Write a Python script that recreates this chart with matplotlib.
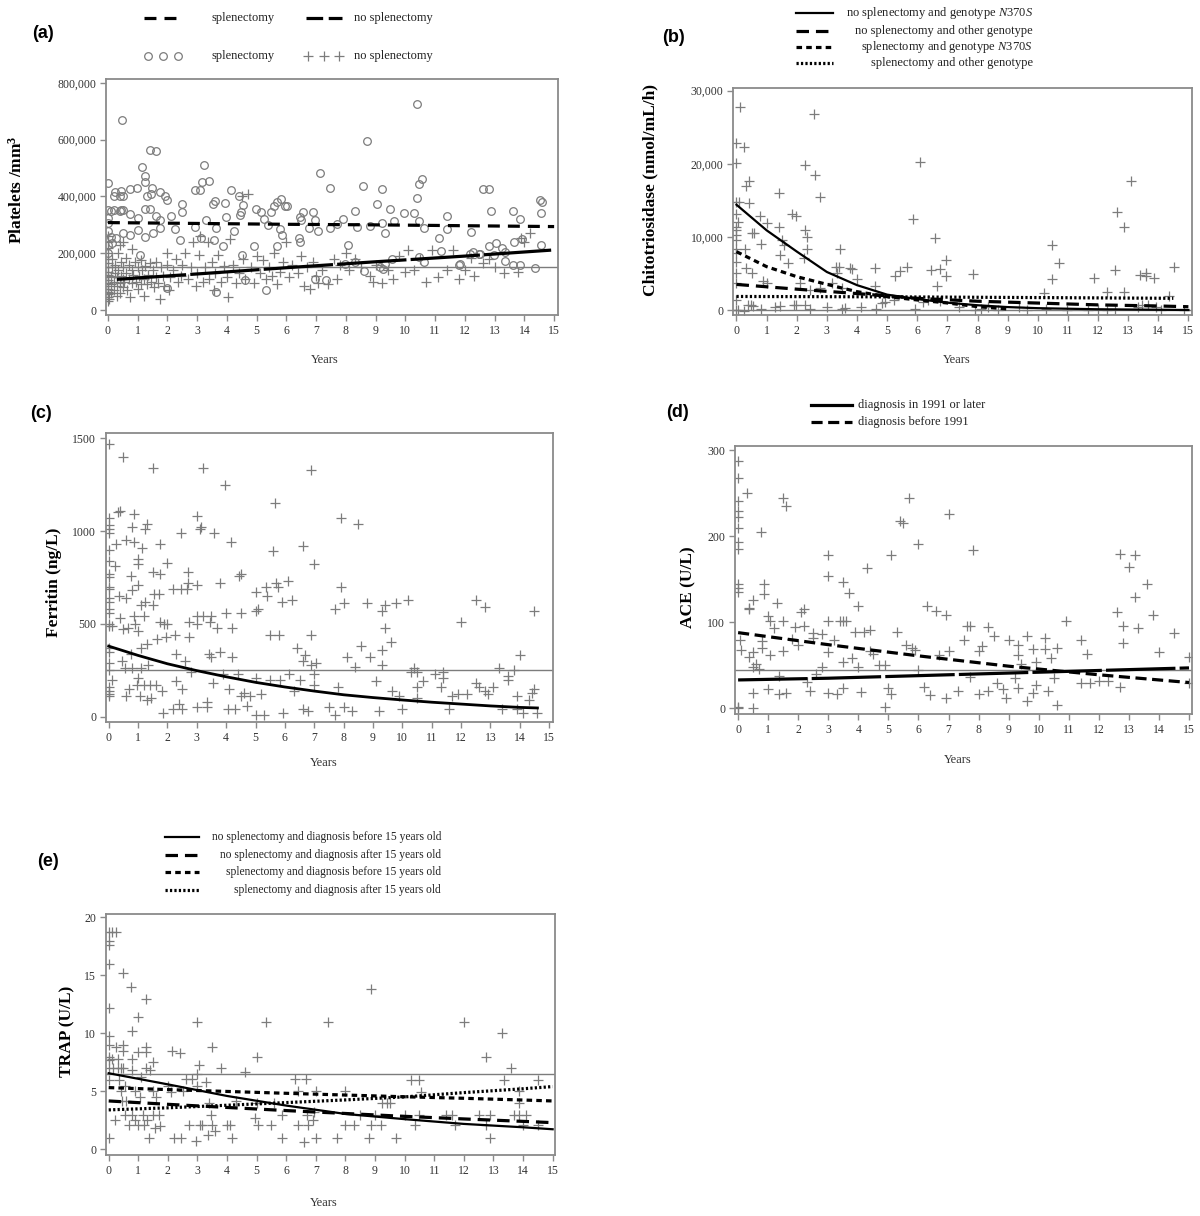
import matplotlib
matplotlib.use("Agg")
import matplotlib.pyplot as plt
from matplotlib.lines import Line2D
from matplotlib.ticker import FuncFormatter

plt.rcParams["font.family"] = "Liberation Serif"
plt.rcParams["mathtext.fontset"] = "custom"
plt.rcParams["mathtext.rm"] = "Liberation Serif"
plt.rcParams["mathtext.it"] = "Liberation Serif:italic"
plt.rcParams["mathtext.bf"] = "Liberation Serif:bold"
plt.rcParams["mathtext.default"] = "regular"
plt.rcParams["lines.scale_dashes"] = False

# DATA

years = list(range(16))

# (a) platelets, values in /mm3
a_splen_pts = [(0.48, 670000), (0.0, 446000), (1.40, 563000), (1.63, 560000), (1.16, 504000), (1.26, 472000),
               (1.24, 451000), (0.25, 416000), (0.45, 418000), (0.40, 400000), (0.50, 402000), (0.22, 400000),
               (0.75, 427000), (0.99, 431000), (1.48, 431000), (1.46, 410000), (1.74, 417000), (1.91, 402000),
               (1.99, 386000), (1.32, 400000), (0.0, 352000), (0.12, 350000), (0.22, 353000), (0.39, 350000),
               (0.45, 352000), (0.50, 351000), (0.73, 340000), (1.01, 323000), (1.26, 356000), (1.40, 355000),
               (1.63, 331000), (1.74, 317000), (0.0, 323000), (0.0, 306000), (0.0, 277000), (0.1, 258000),
               (0.28, 255000), (0.5, 270000), (0.73, 264000), (1.01, 282000), (1.26, 258000), (1.52, 270000),
               (1.74, 288000), (0.0, 230000), (0.15, 235000), (0.0, 200000), (1.07, 195000), (2.13, 331000),
               (2.25, 285000), (2.50, 375000), (2.50, 347000), (2.41, 247000), (2.92, 422000), (3.09, 422000),
               (3.24, 510000), (3.16, 452000), (3.41, 455000), (3.31, 317000), (3.14, 253000), (3.54, 373000),
               (3.59, 383000), (3.65, 288000), (2.92, 294000), (3.57, 247000), (3.87, 224000), (3.93, 376000),
               (3.98, 329000), (4.15, 422000), (4.23, 280000), (4.39, 400000), (4.43, 335000), (4.49, 347000),
               (4.55, 370000), (4.9, 224000), (4.99, 355000), (5.14, 347000), (5.24, 322000), (5.39, 300000),
               (5.48, 345000), (5.58, 365000), (5.67, 380000), (5.81, 390000), (5.95, 367000), (5.8, 285000),
               (5.85, 265000), (5.67, 225000), (4.5, 195000), (4.6, 105000), (5.3, 70000), (3.62, 62000),
               (2.0, 76000), (10.39, 725000), (8.71, 597000), (7.14, 482000), (7.47, 429000), (8.56, 438000),
               (9.21, 426000), (10.39, 396000), (10.47, 445000), (10.56, 463000), (9.04, 372000), (9.47, 357000),
               (9.96, 342000), (10.30, 342000), (8.29, 348000), (6.90, 344000), (6.56, 344000), (6.47, 327000),
               (6.5, 316000), (6.02, 366000), (6.97, 316000), (7.06, 279000), (6.75, 289000), (6.41, 255000),
               (6.47, 240000), (7.47, 290000), (7.89, 320000), (7.70, 303000), (8.37, 294000), (8.82, 296000),
               (9.21, 307000), (9.30, 273000), (9.63, 315000), (10.45, 313000), (10.62, 288000), (11.40, 330000),
               (11.40, 286000), (11.12, 254000), (12.21, 275000), (8.06, 228000), (11.21, 207000), (12.18, 196000),
               (12.46, 198000), (9.55, 178000), (10.47, 188000), (10.62, 168000), (8.32, 168000), (8.60, 139000),
               (9.24, 145000), (9.31, 162000), (9.16, 152000), (7.34, 107000), (6.97, 109000), (11.80, 160000),
               (7.98, 162000), (12.6, 428000), (12.8, 428000), (12.87, 348000), (13.62, 348000), (13.86, 320000),
               (14.52, 389000), (14.6, 381000), (14.55, 342000), (14.55, 229000), (13.64, 240000), (13.93, 249000),
               (13.06, 235000), (12.8, 226000), (13.25, 217000), (13.34, 205000), (12.97, 194000), (13.35, 174000),
               (13.62, 158000), (13.86, 158000), (14.35, 149000), (12.52, 199000), (12.28, 205000), (11.83, 162000)]

a_nosplen_pts = [(0, 30000), (0, 45000), (0, 55000), (0, 65000), (0, 75000), (0, 85000), (0, 95000), (0, 105000),
                 (0, 115000), (0, 125000), (0, 135000), (0, 150000), (0, 165000), (0, 180000), (0, 200000),
                 (0, 220000), (0, 240000), (0, 260000), (0.05, 40000), (0.1, 60000), (0.1, 90000), (0.12, 120000),
                 (0.15, 150000), (0.15, 180000), (0.2, 70000), (0.2, 100000), (0.25, 130000), (0.25, 160000),
                 (0.3, 50000), (0.3, 85000), (0.3, 115000), (0.35, 140000), (0.35, 200000), (0.4, 60000),
                 (0.4, 95000), (0.4, 230000), (0.45, 120000), (0.45, 170000), (0.5, 80000), (0.5, 110000),
                 (0.5, 150000), (0.5, 240000), (0.55, 100000), (0.6, 130000), (0.6, 185000), (0.65, 70000),
                 (0.7, 110000), (0.7, 160000), (0.75, 45000), (0.8, 95000), (0.8, 140000), (0.8, 215000),
                 (0.85, 125000), (0.9, 170000), (0.95, 100000), (1.0, 150000), (1.0, 75000), (1.05, 120000),
                 (1.1, 90000), (1.1, 175000), (1.15, 140000), (1.2, 50000), (1.2, 110000), (1.25, 155000),
                 (1.3, 90000), (1.35, 125000), (1.4, 165000), (1.45, 100000), (1.5, 140000), (1.55, 80000),
                 (1.6, 170000), (1.6, 115000), (1.7, 95000), (1.75, 40000), (1.8, 150000), (1.85, 120000),
                 (1.9, 85000), (2.0, 200000), (2.0, 160000), (2.05, 70000), (2.1, 115000), (2.2, 140000),
                 (2.3, 180000), (2.35, 100000), (2.45, 120000), (2.5, 160000), (2.6, 200000), (2.7, 110000),
                 (2.8, 150000), (2.85, 240000), (2.95, 85000), (3.0, 130000), (3.05, 195000), (3.1, 260000),
                 (3.2, 100000), (3.25, 150000), (3.35, 240000), (3.4, 110000), (3.5, 170000), (3.55, 70000),
                 (3.6, 130000), (3.7, 195000), (3.8, 100000), (3.9, 155000), (4.0, 115000), (4.05, 45000),
                 (4.1, 250000), (4.2, 160000), (4.3, 95000), (4.4, 130000), (4.5, 400000), (4.55, 180000),
                 (4.6, 110000), (4.7, 410000), (4.8, 150000), (4.9, 95000), (5.0, 190000), (5.1, 130000),
                 (5.2, 175000), (5.3, 110000), (5.4, 150000), (5.5, 120000), (5.6, 200000), (5.7, 90000),
                 (5.8, 135000), (5.9, 170000), (6.0, 240000), (6.1, 115000), (6.2, 160000), (6.4, 130000),
                 (6.5, 190000), (6.6, 85000), (6.7, 150000), (6.8, 75000), (6.9, 170000), (7.0, 120000),
                 (7.05, 95000), (7.2, 140000), (7.4, 90000), (7.6, 180000), (7.7, 110000), (7.8, 160000),
                 (8.0, 200000), (8.1, 140000), (8.3, 180000), (8.5, 150000), (8.8, 120000), (8.9, 100000),
                 (9.0, 160000), (9.2, 95000), (9.4, 140000), (9.6, 110000), (9.8, 190000), (10.0, 135000),
                 (10.1, 210000), (10.3, 140000), (10.5, 180000), (10.7, 100000), (10.9, 210000), (11.1, 115000),
                 (11.4, 140000), (11.6, 210000), (11.8, 110000), (12.0, 140000), (12.2, 185000), (12.3, 120000),
                 (12.6, 165000), (12.8, 180000), (13.0, 150000), (13.3, 130000), (13.8, 135000), (14.0, 240000),
                 (14.2, 270000), (13.9, 255000)]

a_splen_fit_x = [0, 3, 6, 9, 12, 15]
a_splen_fit_y = [308000, 305000, 302000, 300000, 297000, 294000]
a_nosplen_fit_x = [0.3, 3, 6, 9, 12, 14.9]
a_nosplen_fit_y = [108000, 127000, 149000, 170000, 190000, 211000]
a_ref = 150000

# (b) chitotriosidase
b_pts = [(0.11, 27800), (0.0, 22800), (0.26, 22300), (0.0, 20100), (2.29, 19800), (2.61, 18400), (2.58, 26800),
         (2.76, 15500), (0.41, 17700), (0.33, 16900), (0.41, 14700), (0.0, 14800), (0.08, 14800), (1.42, 16000),
         (0, 13200), (0, 11400), (0, 10900), (0, 10300), (0, 9600), (0, 8400), (0, 7750), (0, 6600), (0, 5000),
         (0, 3650), (0, 1370), (0, 0), (0.05, 12100), (0.5, 10500), (0.59, 10500), (0.77, 12800), (1.0, 11900),
         (0.82, 9000), (0.28, 8400), (0.31, 5700), (0.52, 5000), (0.88, 3900), (1.01, 3650), (1.42, 11300),
         (1.52, 9600), (1.58, 8900), (1.46, 7500), (1.71, 6400), (1.84, 13200), (1.99, 12800), (2.26, 10900),
         (2.35, 10000), (2.35, 8400), (2.25, 7100), (2.1, 3650), (2.45, 2700), (2.77, 3000), (3.44, 8400),
         (3.31, 5900), (3.4, 5900), (3.76, 5700), (3.82, 5600), (4.0, 4300), (3.33, 5000), (3.18, 3650),
         (3.5, 3000), (4.6, 5700), (4.6, 3300), (5.26, 4600), (5.44, 5400), (5.67, 5900), (5.86, 12500),
         (6.09, 20200), (6.44, 5500), (6.6, 9800), (6.67, 3300), (6.76, 5600), (6.95, 6800), (6.95, 4600),
         (7.84, 4900), (10.2, 2300), (10.46, 8900), (10.46, 4300), (10.69, 6400), (11.87, 4400), (12.29, 2400),
         (12.57, 5500), (12.63, 13400), (12.86, 11300), (12.86, 2400), (13.1, 17600), (13.38, 4800),
         (13.6, 5100), (13.6, 4600), (13.85, 4400), (14.53, 5900), (14.36, 1900),
         (0.05, 0), (0.26, -200), (0.37, 700), (0.49, 700), (0.54, 600), (0.82, 200), (1.27, 450), (1.46, 600),
         (1.9, 700), (1.97, 700), (2.29, 700), (2.45, 200), (2.99, 450), (3.5, 200), (3.59, 300), (4.14, 450),
         (4.62, 200), (4.84, 900), (4.94, 1100), (5.22, 1370), (5.93, 200), (6.18, 1140), (6.35, 1370),
         (6.76, 1280), (7.4, 450), (7.91, 0), (8.1, 200), (8.35, 450), (8.67, 0), (9.38, 450), (9.64, 0),
         (10.27, 200), (10.97, 0), (11.68, 0), (12.0, 200), (12.3, 0), (12.57, 200), (13.34, 450), (13.47, 700),
         (13.66, 700), (13.92, 450), (14.1, 0), (14.87, 0)]

b_solid_x = [0, 1, 2, 3, 4, 5, 6, 7, 8, 9, 10, 12, 15]
b_solid_y = [14400, 10900, 8000, 5200, 3400, 2100, 1500, 1000, 650, 400, 250, 100, 0]
b_longdash_x = [0, 2, 4, 6, 8, 10, 12, 14, 15]
b_longdash_y = [3500, 2850, 2250, 1600, 1200, 950, 700, 550, 450]
b_shortdash_x = [0, 1, 2, 3, 4, 5, 6, 7, 8, 9]
b_shortdash_y = [7980, 5930, 4560, 3510, 2510, 1830, 1370, 960, 460, 140]
b_dotted_x = [0, 5, 10, 14.5]
b_dotted_y = [1850, 1800, 1700, 1600]
b_ref = 0

# (c) ferritin
c_pts = [(0, 1470), (0, 1070), (0, 1030), (0, 1010), (0, 990), (0, 900), (0, 840), (0, 770), (0, 750), (0, 700),
         (0, 690), (0, 640), (0, 620), (0, 580), (0, 560), (0, 500), (0, 490), (0, 370), (0, 350), (0, 290),
         (0, 250), (0, 160), (0, 140), (0, 120), (0, 110), (0.1, 200), (0.1, 490), (0.2, 810), (0.25, 930),
         (0.3, 1100), (0.35, 650), (0.4, 1110), (0.4, 530), (0.45, 300), (0.5, 1400), (0.5, 470), (0.55, 260),
         (0.6, 950), (0.6, 640), (0.6, 110), (0.65, 480), (0.7, 150), (0.75, 340), (0.75, 760), (0.8, 1020),
         (0.8, 680), (0.8, 260), (0.85, 1090), (0.85, 940), (0.85, 540), (0.9, 500), (0.95, 170), (1.0, 850),
         (1.0, 820), (1.0, 710), (1.0, 460), (1.0, 210), (1.05, 110), (1.1, 600), (1.1, 370), (1.1, 260),
         (1.15, 910), (1.2, 540), (1.2, 170), (1.25, 1010), (1.25, 620), (1.3, 390), (1.3, 90), (1.3, 1040),
         (1.35, 280), (1.4, 170), (1.45, 100), (1.5, 1340), (1.5, 780), (1.5, 600), (1.55, 660), (1.6, 170),
         (1.65, 420), (1.7, 660), (1.75, 770), (1.75, 930), (1.75, 510), (1.8, 140), (1.85, 20), (1.9, 500),
         (1.95, 430), (2.0, 830), (2.0, 500), (2.2, 690), (2.2, 40), (2.25, 440), (2.3, 340), (2.3, 190),
         (2.4, 70), (2.45, 990), (2.45, 690), (2.5, 150), (2.5, 40), (2.6, 300), (2.65, 690), (2.7, 720),
         (2.7, 780), (2.75, 510), (2.75, 430), (2.8, 240), (3.0, 1080), (3.0, 710), (3.0, 540), (3.0, 500),
         (3.0, 50), (3.1, 1010), (3.15, 1020), (3.2, 1340), (3.2, 540), (3.35, 80), (3.35, 50), (3.4, 340),
         (3.45, 510), (3.5, 540), (3.5, 320), (3.55, 180), (3.6, 990), (3.7, 480), (3.8, 720), (3.8, 350),
         (3.9, 230), (3.95, 1250), (4.0, 560), (4.05, 40), (4.1, 150), (4.15, 940), (4.2, 480), (4.2, 320),
         (4.3, 40), (4.4, 230), (4.45, 760), (4.5, 770), (4.5, 560), (4.5, 110), (4.6, 130), (4.7, 60),
         (4.8, 110), (5.0, 670), (5.0, 570), (5.0, 210), (5.0, 10), (5.1, 580), (5.2, 120), (5.3, 10),
         (5.35, 700), (5.4, 650), (5.5, 440), (5.5, 200), (5.6, 890), (5.65, 1150), (5.7, 720), (5.75, 700),
         (5.8, 440), (5.85, 200), (5.9, 620), (5.95, 20), (6.1, 730), (6.15, 230), (6.25, 630), (6.3, 140),
         (6.4, 370), (6.5, 200), (6.6, 920), (6.6, 300), (6.6, 40), (6.7, 330), (6.8, 30), (6.9, 1330),
         (6.9, 440), (6.9, 280), (7.0, 820), (7.0, 230), (7.0, 170), (7.05, 290), (7.5, 50), (7.7, 580),
         (7.7, 10), (7.8, 160), (7.9, 1070), (7.9, 700), (8.0, 610), (8.0, 50), (8.1, 320), (8.3, 30),
         (8.4, 270), (8.5, 1040), (8.6, 380), (8.8, 610), (8.9, 320), (9.1, 190), (9.2, 30), (9.3, 570),
         (9.3, 360), (9.3, 280), (9.4, 480), (9.4, 600), (9.6, 400), (9.65, 140), (9.8, 610), (9.9, 110),
         (10.0, 40), (10.2, 630), (10.3, 240), (10.4, 260), (10.5, 240), (10.5, 160), (10.5, 100), (10.7, 190),
         (11.1, 230), (11.3, 160), (11.4, 240), (11.4, 210), (11.6, 40), (11.7, 110), (11.9, 120), (12.0, 510),
         (12.2, 120), (12.5, 630), (12.5, 180), (12.6, 160), (12.8, 590), (12.8, 140), (12.9, 120), (13.1, 160),
         (13.3, 260), (13.4, 40), (13.6, 220), (13.6, 200), (13.8, 250), (13.9, 110), (13.9, 40), (14.0, 330),
         (14.1, 20), (14.3, 90), (14.4, 130), (14.5, 570), (14.5, 150), (14.6, 20)]

c_fit_x = [0, 1, 2, 3, 4, 5, 6, 7, 8, 9, 10, 11, 12, 13, 14, 14.6]
c_fit_y = [380, 330, 285, 248, 215, 185, 160, 138, 118, 103, 90, 78, 68, 58, 50, 47]
c_ref = 250

# (d) ACE
d_pts = [(0, 287), (0, 268), (0, 241), (0, 230), (0, 222), (0, 210), (0, 193), (0, 185), (0, 145), (0, 140),
         (0, 135), (0, 2), (0, 0), (0.05, 80), (0.1, 68), (0.3, 250), (0.35, 117), (0.35, 115), (0.35, 60),
         (0.5, 126), (0.5, 66), (0.5, 48), (0.5, 18), (0.5, 0), (0.6, 52), (0.7, 46), (0.75, 205), (0.8, 78),
         (0.8, 70), (0.85, 145), (0.85, 133), (1.0, 107), (1.05, 101), (1.05, 62), (1.0, 22), (1.2, 93),
         (1.3, 122), (1.35, 38), (1.35, 17), (1.5, 245), (1.5, 102), (1.5, 67), (1.6, 235), (1.6, 18),
         (1.8, 81), (1.9, 95), (2.0, 74), (2.1, 112), (2.2, 96), (2.2, 116), (2.3, 31), (2.4, 20), (2.5, 87),
         (2.5, 82), (2.6, 40), (2.8, 86), (2.8, 48), (3.0, 178), (3.0, 154), (3.0, 102), (3.0, 66), (3.0, 18),
         (3.2, 80), (3.3, 17), (3.4, 102), (3.5, 147), (3.5, 102), (3.5, 54), (3.5, 24), (3.6, 102),
         (3.7, 134), (3.8, 58), (3.9, 89), (4.0, 119), (4.0, 48), (4.1, 19), (4.2, 89), (4.3, 163), (4.4, 91),
         (4.4, 67), (4.5, 63), (4.7, 50), (4.9, 2), (4.9, 50), (5.0, 24), (5.1, 178), (5.1, 17), (5.3, 89),
         (5.4, 218), (5.5, 215), (5.6, 74), (5.7, 245), (5.8, 70), (5.9, 68), (6.0, 191), (6.0, 45), (6.2, 25),
         (6.3, 119), (6.4, 15), (6.6, 113), (6.7, 62), (6.9, 109), (6.9, 12), (7.0, 67), (7.0, 226), (7.3, 20),
         (7.5, 79), (7.6, 96), (7.7, 96), (7.7, 36), (7.8, 184), (8.0, 17), (8.0, 67), (8.1, 72), (8.3, 95),
         (8.3, 20), (8.5, 84), (8.6, 30), (8.8, 22), (8.9, 12), (9.0, 80), (9.2, 35), (9.3, 74), (9.3, 62),
         (9.3, 24), (9.4, 52), (9.6, 84), (9.6, 8), (9.8, 69), (9.8, 18), (9.9, 27), (9.9, 54), (10.2, 82),
         (10.2, 69), (10.3, 20), (10.4, 59), (10.5, 35), (10.6, 70), (10.6, 4), (10.9, 102), (11.4, 80),
         (11.4, 30), (11.6, 63), (11.7, 30), (12.0, 32), (12.3, 32), (12.6, 112), (12.7, 180), (12.8, 96),
         (12.8, 76), (12.7, 25), (13.0, 164), (13.2, 178), (13.2, 129), (13.3, 93), (13.6, 144), (13.8, 109),
         (14.0, 66), (14.5, 87), (15.0, 60), (15.0, 29)]

d_late_x = [0, 3, 6, 9, 12, 15]
d_late_y = [33, 35, 38, 41, 44, 47]
d_early_x = [0, 3, 6, 9, 12, 15]
d_early_y = [88, 74, 61, 49, 39, 30]
d_ref = 45

# (e) TRAP
e_pts = [(0, 18.7), (0, 18.0), (0, 17.6), (0, 16.0), (0, 12.2), (0, 9.8), (0, 9.0), (0, 8.0), (0, 7.7), (0, 7.0),
         (0, 6.0), (0, 1.0), (0.1, 18.7), (0.1, 7.8), (0.15, 7.0), (0.2, 2.5), (0.25, 18.7), (0.25, 8.8),
         (0.3, 7.8), (0.3, 7.0), (0.35, 6.0), (0.4, 7.0), (0.4, 5.0), (0.45, 4.2), (0.5, 15.2), (0.5, 9.0),
         (0.5, 8.5), (0.5, 7.0), (0.55, 5.5), (0.55, 3.0), (0.6, 4.2), (0.7, 2.1), (0.75, 14.0), (0.8, 10.2),
         (0.8, 7.8), (0.8, 6.8), (0.8, 3.0), (0.9, 5.0), (0.9, 2.5), (1.0, 11.4), (1.0, 8.4), (1.0, 2.1),
         (1.05, 4.5), (1.1, 6.2), (1.15, 3.0), (1.2, 2.1), (1.25, 13.0), (1.25, 8.8), (1.25, 8.4), (1.25, 7.0),
         (1.3, 2.5), (1.35, 1.0), (1.4, 6.8), (1.5, 7.5), (1.5, 5.0), (1.5, 3.0), (1.55, 1.8), (1.6, 4.5),
         (1.7, 3.0), (1.75, 2.0), (2.0, 5.5), (2.1, 4.9), (2.15, 8.5), (2.2, 1.0), (2.4, 8.3), (2.45, 1.0),
         (2.5, 5.0), (2.6, 6.1), (2.7, 2.1), (2.8, 6.1), (2.95, 0.7), (3.0, 11.0), (3.0, 6.5), (3.0, 5.5),
         (3.05, 7.3), (3.1, 2.1), (3.15, 2.1), (3.3, 5.8), (3.35, 1.2), (3.4, 4.0), (3.45, 3.0), (3.5, 8.8),
         (3.5, 2.1), (3.6, 1.6), (3.8, 7.0), (4.0, 2.1), (4.1, 2.1), (4.15, 1.0), (4.3, 4.2), (4.6, 6.7),
         (4.95, 2.7), (5.0, 8.0), (5.0, 4.0), (5.05, 2.1), (5.3, 11.0), (5.5, 2.1), (5.6, 4.0), (5.85, 3.0),
         (5.85, 1.0), (6.3, 6.1), (6.4, 2.1), (6.4, 5.0), (6.6, 0.6), (6.65, 6.1), (6.7, 3.0), (6.75, 2.1),
         (6.9, 2.5), (6.95, 3.2), (7.0, 1.0), (7.0, 5.0), (7.4, 11.0), (7.7, 1.0), (8.0, 5.0), (8.0, 2.1),
         (8.3, 2.1), (8.5, 3.0), (8.8, 1.0), (8.85, 13.8), (8.85, 2.1), (9.0, 3.0), (9.2, 2.1), (9.25, 4.0),
         (9.4, 4.0), (9.5, 4.0), (9.7, 1.0), (10.0, 3.0), (10.2, 6.0), (10.35, 2.1), (10.5, 6.0), (10.55, 4.9),
         (10.5, 3.0), (11.4, 3.0), (11.6, 3.0), (11.7, 2.1), (12.0, 11.0), (12.5, 3.0), (12.75, 2.1),
         (12.75, 8.0), (12.9, 3.0), (12.9, 1.0), (13.3, 10.0), (13.35, 6.0), (13.6, 7.0), (13.7, 3.0),
         (13.85, 5.0), (13.85, 4.0), (13.85, 3.0), (14.1, 3.0), (14.0, 2.1), (14.5, 6.0), (14.5, 2.1)]

e_fit_x = [0, 2, 4, 6, 8, 10, 12, 14, 15]
e_nosplen_young_y = [6.56, 5.6, 4.6, 3.77, 3.05, 2.6, 2.19, 1.9, 1.73]
e_nosplen_old_y = [4.17, 3.88, 3.61, 3.34, 3.09, 2.84, 2.62, 2.41, 2.3]
e_splen_young_y = [5.32, 5.15, 4.99, 4.83, 4.68, 4.53, 4.4, 4.25, 4.17]
e_splen_old_y = [3.4, 3.58, 3.8, 4.03, 4.26, 4.52, 4.89, 5.22, 5.41]
e_ref = 6.5

# STYLE

W, H = 1200, 1216
GREY = "#7c7c7c"
FRAME = "#8a8a8a"

solid = dict(color="black", lw=1.6, linestyle="-")
solid_gap = dict(color="black", lw=2.3, dashes=(50, 3))
long_dash = dict(color="black", lw=2.3, dashes=(9, 5))
short_dash = dict(color="black", lw=2.3, dashes=(4, 3))
dotted = dict(color="black", lw=2.3, dashes=(1.6, 1.6))
a_splen_style = dict(color="black", lw=2.3, dashes=(8.6, 5.8))

plus_kw = dict(marker="+", ms=6.5, mew=0.9, color=GREY, linestyle="none")
circ_kw = dict(marker="o", ms=5.5, mew=0.9, mfc="none", mec=GREY, linestyle="none")

fig = plt.figure(figsize=(12, 12.16), dpi=100)


def px_axes(left, top, right, bottom):
    return fig.add_axes([left / W, 1 - bottom / H, (right - left) / W, (bottom - top) / H])


def style(ax, xlim, ylim, yticks, fmt=None):
    ax.set_xlim(*xlim)
    ax.set_ylim(*ylim)
    ax.set_xticks(years)
    ax.set_yticks(yticks)
    if fmt:
        ax.yaxis.set_major_formatter(FuncFormatter(fmt))
    for s in ax.spines.values():
        s.set_color(FRAME)
        s.set_linewidth(1.3)
    ax.tick_params(direction="out", length=4, width=1, color=FRAME,
                   labelsize=8.5, labelcolor="#333333", pad=3)


def ftxt(x, y, s, **kw):
    fig.text(x / W, 1 - y / H, s, **kw)


def fline(x1, x2, y, **kw):
    fig.add_artist(Line2D([x1 / W, x2 / W], [1 - y / H] * 2, transform=fig.transFigure, **kw))


def fmark(xs, y, **kw):
    fig.add_artist(Line2D([x / W for x in xs], [1 - y / H] * len(xs), transform=fig.transFigure, **kw))


comma = lambda v, p: f"{int(v):,}"
lab_kw = dict(fontsize=12.5, fontweight="bold", rotation=90, ha="center", va="center")
yrs_kw = dict(fontsize=9, color="#333333", ha="center", va="center")
tag_kw = dict(fontsize=13, fontweight="bold", family="Liberation Sans", ha="left", va="center")
leg_kw = dict(fontsize=9, color="#222222", va="center")

# (a) PLATELETS

ax = px_axes(106, 79, 558, 315)
ax.axhline(a_ref, color=GREY, lw=1)
ax.plot(*zip(*a_splen_pts), **circ_kw)
ax.plot(*zip(*a_nosplen_pts), **plus_kw)
ax.plot(a_splen_fit_x, a_splen_fit_y, **a_splen_style)
ax.plot(a_nosplen_fit_x, a_nosplen_fit_y, **solid_gap)
style(ax, (-0.064, 15.13), (-17600, 814000), range(0, 800001, 200000), comma)
ftxt(17, 190, "Platelets /mm$^3$", **lab_kw)
ftxt(325, 360, "Years", **yrs_kw)
ftxt(32, 33, "(a)", **tag_kw)
fline(144, 183, 18, **a_splen_style)
ftxt(212, 18, "splenectomy", ha="left", **leg_kw)
fline(306, 342, 18, color="black", lw=2.3, dashes=(12, 4))
ftxt(354, 18, "no splenectomy", ha="left", **leg_kw)
fmark([148, 163, 178], 56, **circ_kw)
ftxt(212, 56, "splenectomy", ha="left", **leg_kw)
fmark([308, 324, 339], 56, **plus_kw)
ftxt(354, 56, "no splenectomy", ha="left", **leg_kw)

# (b) CHITOTRIOSIDASE

ax = px_axes(733, 88, 1192, 315)
ax.axhline(b_ref, color=GREY, lw=1)
ax.plot(*zip(*b_pts), **plus_kw)
ax.plot(b_solid_x, b_solid_y, **solid)
ax.plot(b_longdash_x, b_longdash_y, **long_dash)
ax.plot(b_shortdash_x, b_shortdash_y, **short_dash)
ax.plot(b_dotted_x, b_dotted_y, **dotted)
style(ax, (-0.116, 15.12), (-684, 30370), range(0, 30001, 10000), comma)
ftxt(650, 190, "Chitotriosidase (nmol/mL/h)", **lab_kw)
ftxt(957, 360, "Years", **yrs_kw)
ftxt(662, 37, "(b)", **tag_kw)
b_leg = [(solid, "no splenectomy and genotype $\\it{N370S}$"),
         (long_dash, "no splenectomy and other genotype"),
         (short_dash, "splenectomy and genotype $\\it{N370S}$"),
         (dotted, "splenectomy and other genotype")]
for (kw, label), yy in zip(b_leg, [13, 31, 47, 63]):
    fline(796, 833, yy, **kw)
    ftxt(1033, yy, label, ha="right", **leg_kw)

# (c) FERRITIN

ax = px_axes(106, 433, 553, 722)
ax.axhline(c_ref, color=GREY, lw=1)
ax.plot(*zip(*c_pts), **plus_kw)
ax.plot(c_fit_x, c_fit_y, color="black", lw=2)
style(ax, (-0.092, 15.13), (-28.6, 1528), [0, 500, 1000, 1500])
ftxt(54, 582, "Ferritin (ng/L)", **lab_kw)
ftxt(324, 763, "Years", **yrs_kw)
ftxt(30, 413, "(c)", **tag_kw)

# (d) ACE

ax = px_axes(735, 446, 1192, 714)
ax.axhline(d_ref, color=GREY, lw=1)
ax.plot(*zip(*d_pts), **plus_kw)
ax.plot(d_late_x, d_late_y, **solid_gap)
ax.plot(d_early_x, d_early_y, color="black", lw=2.3, dashes=(8, 4))
style(ax, (-0.103, 15.1), (-6.6, 305), [0, 100, 200, 300])
ftxt(688, 587, "ACE (U/L)", **lab_kw)
ftxt(958, 760, "Years", **yrs_kw)
ftxt(666, 412, "(d)", **tag_kw)
fline(811, 852, 405, color="black", lw=2.3)
ftxt(858, 405, "diagnosis in 1991 or later", ha="left", **leg_kw)
fline(811, 852, 422, color="black", lw=2.3, dashes=(8, 4))
ftxt(858, 422, "diagnosis before 1991", ha="left", **leg_kw)

# (e) TRAP

ax = px_axes(106, 914, 555, 1155)
ax.axhline(e_ref, color=GREY, lw=1)
ax.plot(*zip(*e_pts), **plus_kw)
ax.plot(e_fit_x, e_nosplen_young_y, **solid)
ax.plot(e_fit_x, e_nosplen_old_y, **long_dash)
ax.plot(e_fit_x, e_splen_young_y, **short_dash)
ax.plot(e_fit_x, e_splen_old_y, **dotted)
style(ax, (-0.091, 15.08), (-0.49, 20.29), [0, 5, 10, 15, 20])
ftxt(67, 1031, "TRAP (U/L)", **lab_kw)
ftxt(324, 1203, "Years", **yrs_kw)
ftxt(37, 862, "(e)", **tag_kw)
e_leg = [(solid, "no splenectomy and diagnosis before 15 years old"),
         (long_dash, "no splenectomy and diagnosis after 15 years old"),
         (short_dash, "splenectomy and diagnosis before 15 years old"),
         (dotted, "splenectomy and diagnosis after 15 years old")]
for (kw, label), yy in zip(e_leg, [837, 855, 872, 890]):
    fline(165, 199, yy, **kw)
    ftxt(441, yy, label, ha="right", fontsize=8.3, color="#222222", va="center")

fig.savefig("out.png", dpi=100)
